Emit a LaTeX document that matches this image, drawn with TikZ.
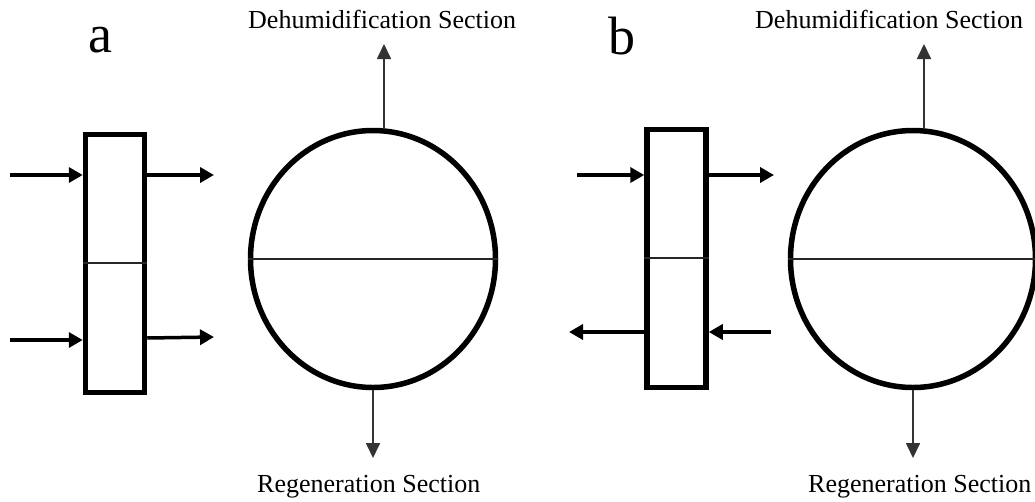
\documentclass[tikz,border=0pt]{standalone}
\usepackage{fontspec}
\setmainfont{Liberation Serif}
\usetikzlibrary{arrows.meta,shapes.geometric}
\begin{document}
\begin{tikzpicture}[x=1pt,y=-1pt,
  wheelbox/.style={draw=black,line width=5.5pt,minimum width=59pt,minimum height=258pt,inner sep=0pt},
  wheel/.style={draw=black,ellipse,line width=5.5pt,minimum width=245pt,minimum height=257pt,inner sep=0pt},
  flow/.style={line width=3.5pt,-{Triangle[length=14pt,width=15pt]}},
  outflow/.style={line width=1.7pt,draw=black!80,-{Triangle[length=15pt,width=14pt]}},
  divider/.style={line width=1.6pt,draw=black!85},
  sect/.style={font=\fontsize{26}{30}\selectfont,inner sep=0pt,anchor=base west},
  panel/.style={font=\fontsize{54}{60}\selectfont,inner sep=0pt}]
\useasboundingbox (0,0) rectangle (1035,501);
% ---------- panel a ----------
\node[panel] (la) at (100,40) {a};
\node[wheelbox] (rectA) at (115,263.5) {};
\draw[divider] (rectA.west |- 0,263) -- (rectA.east |- 0,263);
\coordinate (ainT) at (10,175);
\coordinate (aoutT) at (214,175);
\coordinate (ainB) at (10,340);
\coordinate (aoutB) at (214,337);
\draw[flow] (ainT) -- (ainT -| rectA.west);
\draw[flow] (aoutT -| rectA.east) -- (aoutT);
\draw[flow] (ainB) -- (ainB -| rectA.west);
\draw[flow] (rectA.east |- 0,338) -- (aoutB);
\node[wheel] (circA) at (373,259) {};
\draw[divider] (circA.west) -- (circA.east);
\node[sect] (dA) at (248,28) {Dehumidification Section};
\node[sect] (rA) at (257,492) {Regeneration Section};
\coordinate (dAtip) at (384,44);
\coordinate (rAtip) at (373,458);
\draw[outflow] (384,129) -- (dAtip);
\draw[outflow] (circA.south) -- (rAtip);
% ---------- panel b ----------
\node[panel] (lb) at (622,36) {b};
\node[wheelbox] (rectB) at (676.5,258.5) {};
\draw[divider] (rectB.west |- 0,258) -- (rectB.east |- 0,258);
\coordinate (binT) at (577,175);
\coordinate (boutT) at (774,175);
\coordinate (boutB) at (569,332);
\coordinate (binB) at (771,332);
\draw[flow] (binT) -- (binT -| rectB.west);
\draw[flow] (boutT -| rectB.east) -- (boutT);
\draw[flow] (boutB -| rectB.west) -- (boutB);
\draw[flow] (binB) -- (binB -| rectB.east);
\node[wheel] (circB) at (913,259) {};
\draw[divider] (circB.west) -- (circB.east);
\node[sect] (dB) at (755,28) {Dehumidification Section};
\node[sect] (rB) at (808,492) {Regeneration Section};
\coordinate (dBtip) at (924,44);
\coordinate (rBtip) at (913,458);
\draw[outflow] (924,129) -- (dBtip);
\draw[outflow] (circB.south) -- (rBtip);
\end{tikzpicture}
\end{document}
